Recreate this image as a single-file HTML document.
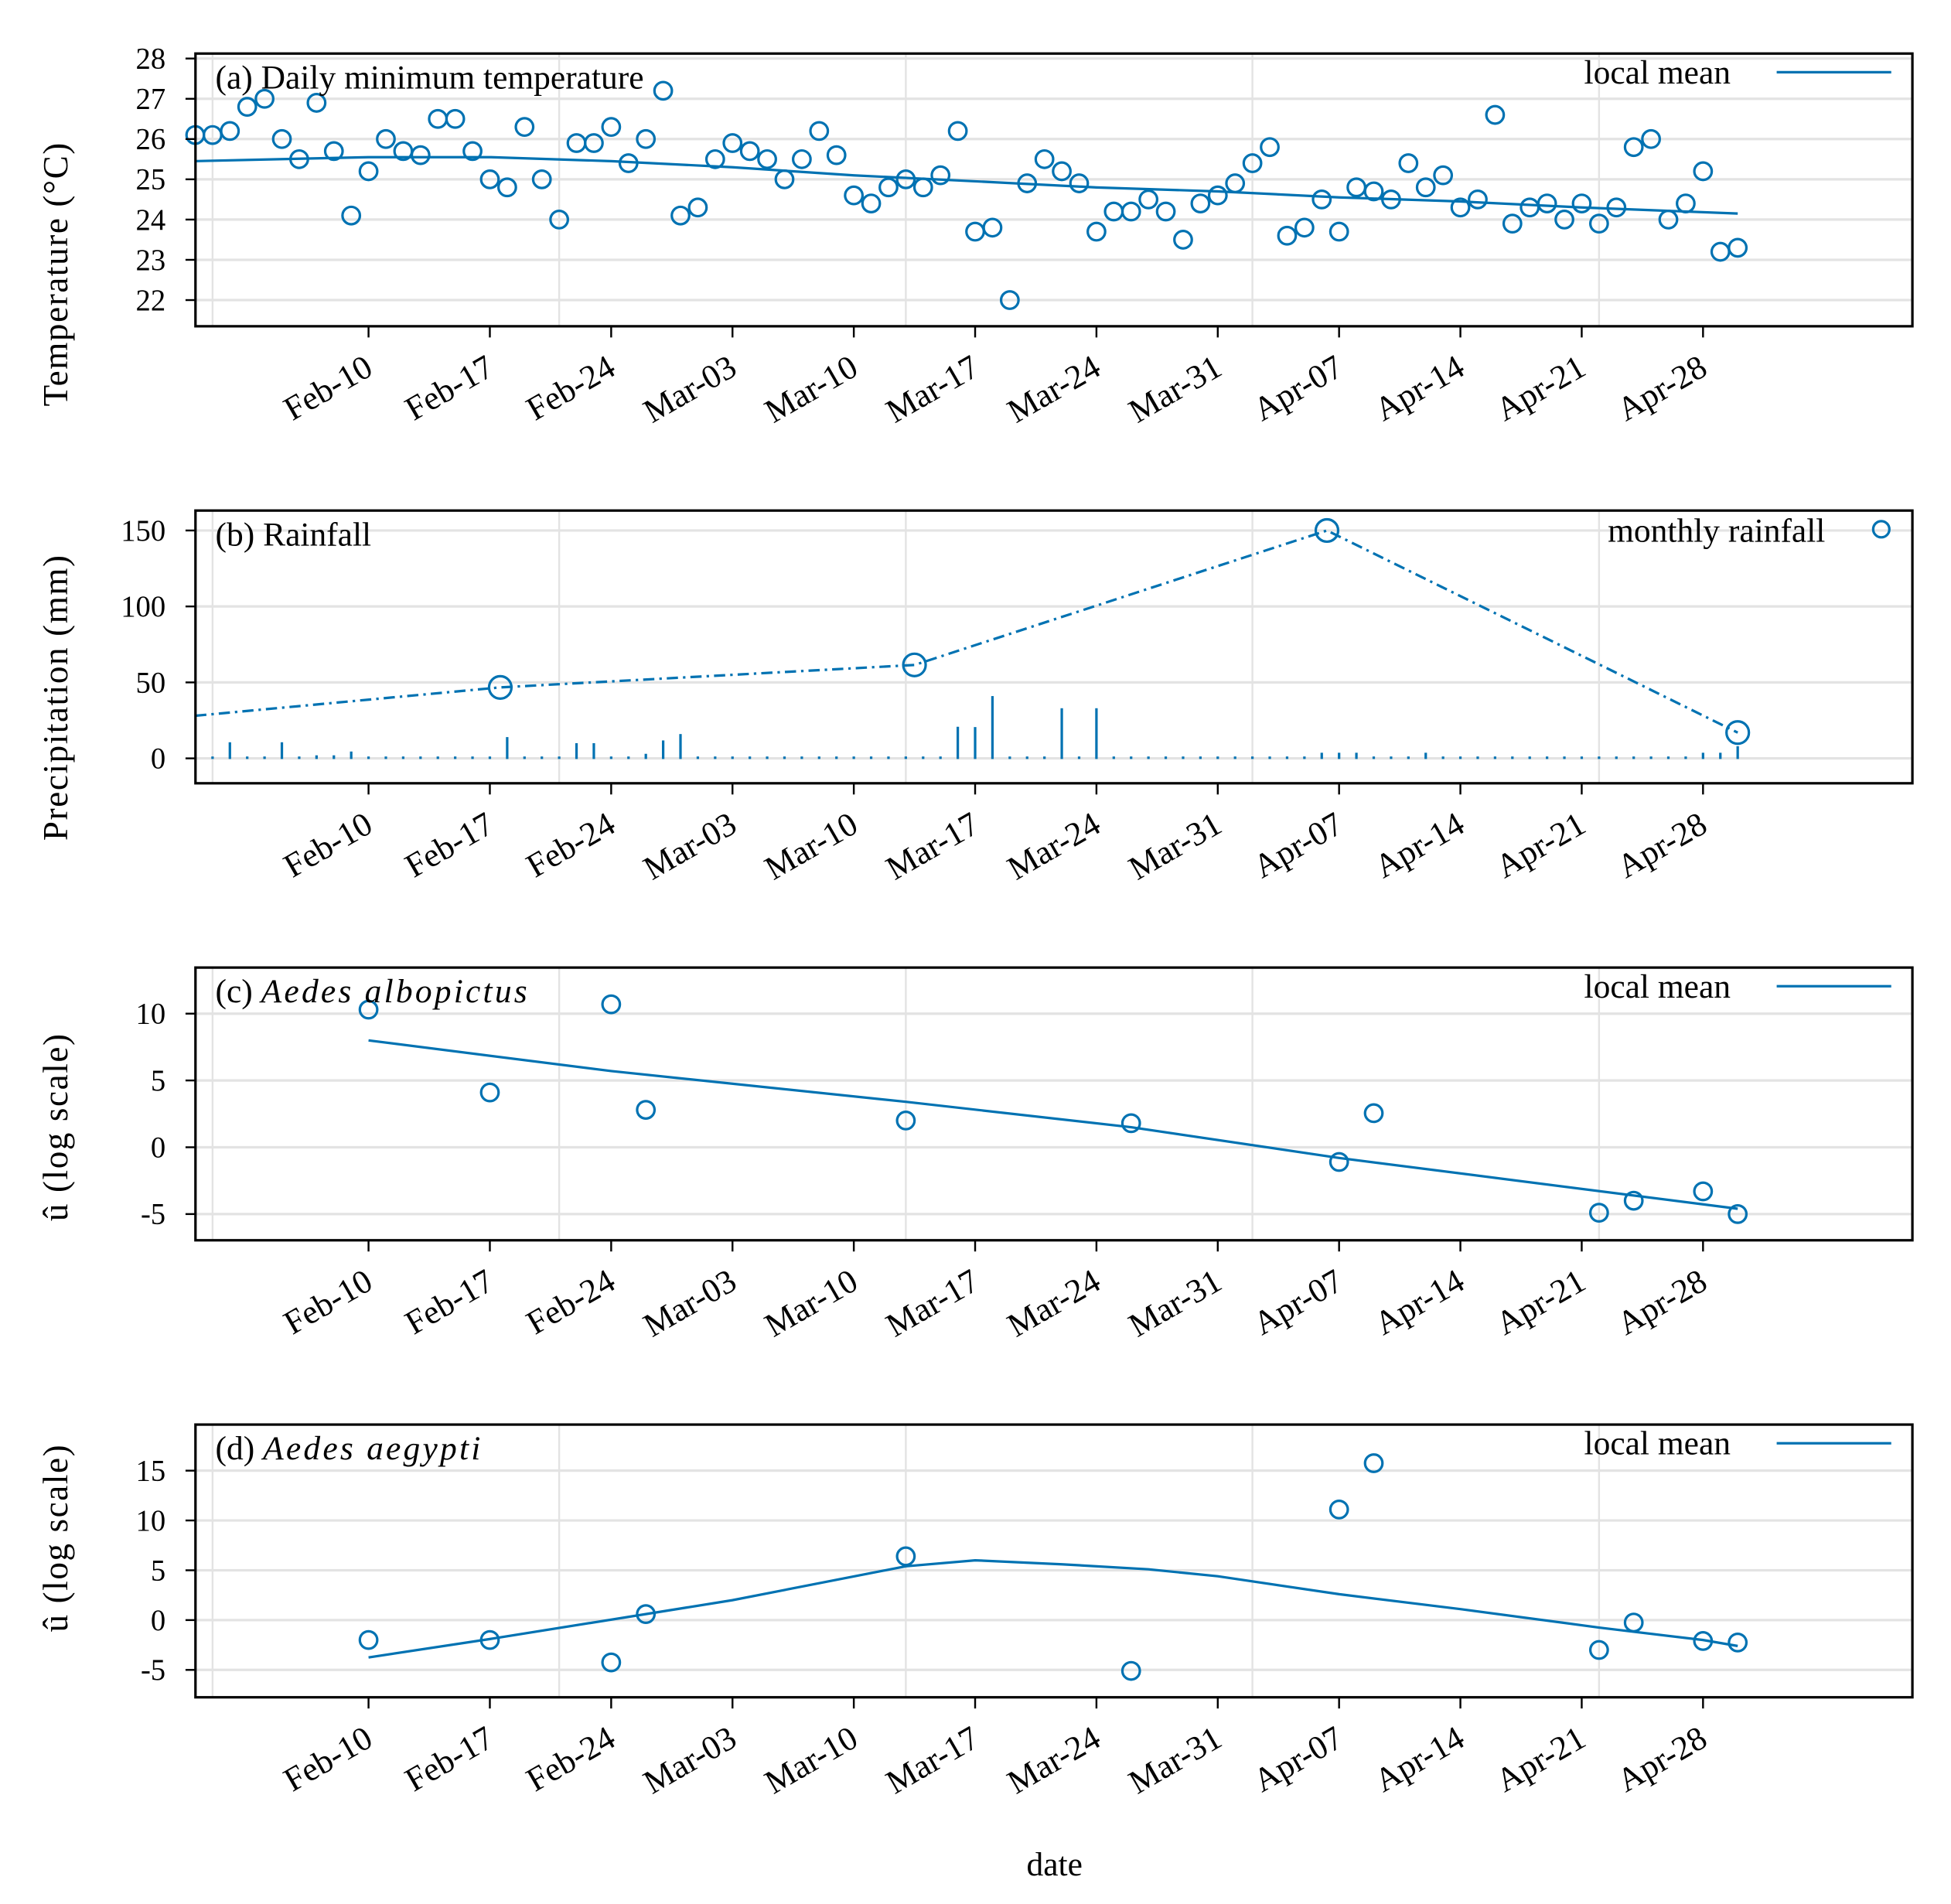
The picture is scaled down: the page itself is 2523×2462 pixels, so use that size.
<!DOCTYPE html>
<html><head><meta charset="utf-8"><style>
html,body{margin:0;padding:0;background:#fff}
svg{display:block}
text{font-family:"Liberation Serif",serif;fill:#000}
</style></head><body>
<svg id="fig" width="2523" height="2462" viewBox="0 0 1567 1529" preserveAspectRatio="none" xmlns="http://www.w3.org/2000/svg"></svg>
<script>
// ---- data ----
const tickLabels = ["Feb-10","Feb-17","Feb-24","Mar-03","Mar-10","Mar-17","Mar-24","Mar-31","Apr-07","Apr-14","Apr-21","Apr-28"];
const tickDays = [10,17,24,31,38,45,52,59,66,73,80,87];
const gridDays = [1,21,41,61,81];
const tempValues = [26.1,26.1,26.2,26.8,27.0,26.0,25.5,26.9,25.7,24.1,25.2,26.0,25.7,25.6,26.5,26.5,25.7,25.0,24.8,26.3,25.0,24.0,25.9,25.9,26.3,25.4,26.0,27.2,24.1,24.3,25.5,25.9,25.7,25.5,25.0,25.5,26.2,25.6,24.6,24.4,24.8,25.0,24.8,25.1,26.2,23.7,23.8,22.0,24.9,25.5,25.2,24.9,23.7,24.2,24.2,24.5,24.2,23.5,24.4,24.6,24.9,25.4,25.8,23.6,23.8,24.5,23.7,24.8,24.7,24.5,25.4,24.8,25.1,24.3,24.5,26.6,23.9,24.3,24.4,24.0,24.4,23.9,24.3,25.8,26.0,24.0,24.4,25.2,23.2,23.3];
const tempMeanDays = [0,10,17,24,31,38,45,52,59,66,73,80,89];
const tempMeanValues = [25.45,25.55,25.55,25.45,25.3,25.1,24.95,24.8,24.7,24.55,24.45,24.3,24.15];
const rainValues = [0,10.6,0,0,10.6,1,2,2,4.5,0.5,0,0,0,0,0,0,0,14,0,0,0,10,10,0,0,3,11.8,16,0,0,0,0,0,0,0,0,0,0,0,0,0,0,0,20.8,20.6,41,0,0,0,33,0,33,0,0,0,0,0,0,0,0,0,0,0,0,3.7,3.7,3.7,0,0,0,3.7,0,0,0,0,0,0,0,0,0,0,0,0,0,0,0,3.7,3.7,8];
const monthlyDays = [17.6,41.5,65.3,89];
const monthlyValues = [46.7,61.5,150,17];
const albDays = [10,17,24,26,41,54,66,68,81,83,87,89];
const albValues = [10.3,4.1,10.7,2.8,2.0,1.8,-1.1,2.55,-4.9,-4.0,-3.3,-5.0];
const albMeanDays = [10,24,41,54,66,89];
const albMeanValues = [8.0,5.7,3.4,1.5,-0.8,-4.6];
const aegDays = [10,17,24,26,41,54,66,68,81,83,87,89];
const aegValues = [-2.0,-2.0,-4.25,0.6,6.4,-5.1,11.1,15.75,-3.0,-0.25,-2.1,-2.25];
const aegMeanDays = [10,17,26,31,41,45,50,55,59,66,73,81,87,89];
const aegMeanValues = [-3.75,-1.9,0.6,2.0,5.4,6.0,5.6,5.1,4.4,2.6,1.1,-0.75,-2.0,-2.6];

const NS="http://www.w3.org/2000/svg";
const svg=document.getElementById('fig');
const C="#0072b2";
const X0=157,X1=1536;
function xd(d){return 156.8+d*13.92;}
function mk(tag,attrs,parent){const e=document.createElementNS(NS,tag);for(const k in attrs)e.setAttribute(k,attrs[k]);(parent||svg).appendChild(e);return e;}

function panel(p){
  const g=mk('g',{});
  
  
  const yv=v=>p.yTop+(p.vTop-v)*p.sc;
  p.yticks.forEach(v=>{const l=mk('line',{x1:X0,x2:X1,y1:yv(v),y2:yv(v),stroke:'#e3e3e3','stroke-width':2},g);
    });
  gridDays.forEach(d=>{const l=mk('line',{x1:xd(d),x2:xd(d),y1:p.top,y2:p.bot,stroke:'#e3e3e3','stroke-width':1.5},g);
    });
  p.draw(g,yv);
  const fr=mk('rect',{x:X0,y:p.top,width:X1-X0,height:p.bot-p.top,fill:'none',stroke:'#000','stroke-width':2},g);
  
  p.yticks.forEach(v=>{mk('line',{x1:149,x2:X0,y1:yv(v),y2:yv(v),stroke:'#000','stroke-width':1.5},g);
    const t=mk('text',{x:133,y:yv(v)+8,'text-anchor':'end','font-size':24},g);t.textContent=v;
    });
  tickDays.forEach((d,i)=>{mk('line',{x1:xd(d),x2:xd(d),y1:p.bot,y2:p.bot+9,stroke:'#000','stroke-width':1.5},g);
    const x=xd(d)+5,y=p.bot+38;
    const t=mk('text',{x:x,y:y,'text-anchor':'end','font-size':27,transform:`rotate(-30 ${x} ${y})`},g);t.textContent=tickLabels[i];
    });
  const cy=p.titleY;
  const yt=mk('text',{x:54,y:cy,'text-anchor':'middle','font-size':28,'letter-spacing':1,transform:`rotate(-90 54 ${cy})`},g);
  yt.textContent=p.ytitle;
  const pt=mk('text',{x:173,y:p.top+28,'font-size':27},g);
  pt.innerHTML=p.title;
  const lg=mk('g',{},g);
  if(p.legend==='line'){
    const lt=mk('text',{x:1390,y:p.top+24,'text-anchor':'end','font-size':27},lg);lt.textContent='local mean';
    
    const ll=mk('line',{x1:1427,x2:1519,y1:p.top+15,y2:p.top+15,stroke:C,'stroke-width':2},lg);
    
  } else {
    const lt=mk('text',{x:1466,y:p.top+25,'text-anchor':'end','font-size':27},lg);lt.textContent='monthly rainfall';
    
    const lc=mk('circle',{cx:1511,cy:p.top+15,r:6.5,fill:'none',stroke:C,'stroke-width':2},lg);
    
  }
}
function line(g,days,vals,yv,dash,name){
  const pts=days.map((d,i)=>xd(d).toFixed(1)+','+yv(vals[i]).toFixed(1)).join(' ');
  const a={points:pts,fill:'none',stroke:C,'stroke-width':2};
  if(dash)a['stroke-dasharray']=dash;
  const l=mk('polyline',a,g);
}
function dots(g,days,vals,yv,r,name){
  days.forEach((d,i)=>{const c=mk('circle',{cx:xd(d),cy:yv(vals[i]),r:r,fill:'none',stroke:C,'stroke-width':2},g);
    });
}

panel({name:'panel-a-temperature',top:43,bot:262,yTop:47,vTop:28,sc:32.33,yticks:[22,23,24,25,26,27,28],
  ytitle:'Temperature (°C)',titleY:220,title:'(a) Daily minimum temperature',legend:'line',
  draw:(g,yv)=>{line(g,tempMeanDays,tempMeanValues,yv,null,'local-mean-line');
    dots(g,tempValues.map((v,i)=>i),tempValues,yv,7,'temperature-point');}});

panel({name:'panel-b-rainfall',top:410,bot:629,yTop:426,vTop:150,sc:1.22,yticks:[0,50,100,150],
  ytitle:'Precipitation (mm)',titleY:560,title:'(b) Rainfall',legend:'marker',
  draw:(g,yv)=>{
    rainValues.forEach((v,i)=>{const d=i+1;const y0=yv(0);const h=Math.max(v*1.22,1.5);
      const b=mk('rect',{x:xd(d)-1,y:y0-h,width:2,height:h+0.5,fill:C},g);
      });
    line(g,[0].concat(monthlyDays),[28].concat(monthlyValues),yv,'9,4,2,4','monthly-rainfall-line');
    dots(g,monthlyDays,monthlyValues,yv,9,'monthly-rainfall-point');}});

panel({name:'panel-c-albopictus',top:777,bot:996,yTop:814,vTop:10,sc:10.73,yticks:[-5,0,5,10],
  ytitle:'û (log scale)',titleY:905,title:'(c) <tspan font-style="italic" letter-spacing="2">Aedes albopictus</tspan>',legend:'line',
  draw:(g,yv)=>{line(g,albMeanDays,albMeanValues,yv,null,'local-mean-line');
    dots(g,albDays,albValues,yv,7,'albopictus-point');}});

panel({name:'panel-d-aegypti',top:1144,bot:1363,yTop:1181,vTop:15,sc:8,yticks:[-5,0,5,10,15],
  ytitle:'û (log scale)',titleY:1235,title:'(d) <tspan font-style="italic" letter-spacing="2">Aedes aegypti</tspan>',legend:'line',
  draw:(g,yv)=>{line(g,aegMeanDays,aegMeanValues,yv,null,'local-mean-line');
    dots(g,aegDays,aegValues,yv,7,'aegypti-point');}});

const xt=mk('text',{x:847,y:1506,'text-anchor':'middle','font-size':27});
xt.textContent='date';


</script>
</body></html>
